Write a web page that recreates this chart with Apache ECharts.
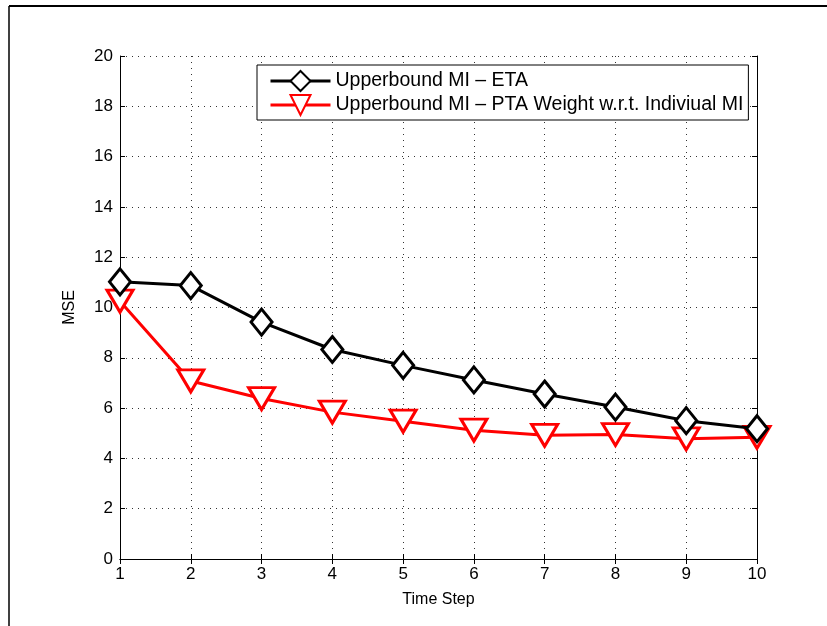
<!DOCTYPE html>
<html><head><meta charset="utf-8">
<script src="https://cdn.jsdelivr.net/npm/echarts@6/dist/echarts.min.js"></script>
<style>html,body{margin:0;padding:0;background:#fff}#c{width:827px;height:626px}</style>
</head><body><div id="c"></div>
<script>
const timeSteps = [1,2,3,4,5,6,7,8,9,10];
const etaValues = [11.02, 10.87, 9.42, 8.33, 7.70, 7.12, 6.56, 6.04, 5.50, 5.18];
const ptaValues = [10.25, 7.08, 6.38, 5.84, 5.48, 5.12, 4.92, 4.95, 4.78, 4.84];
const seriesNames = ['Upperbound MI \u2013 ETA', 'Upperbound MI \u2013 PTA Weight w.r.t. Indiviual MI'];
const xTicks = {min:1, max:10, interval:1};
const yTicks = {min:0, max:20, interval:2};

const font = 'Liberation Sans, Arial, Helvetica, sans-serif';
const chart = echarts.init(document.getElementById('c'), null, {renderer:'canvas'});
const axisCommon = {
  axisLine:{show:true, lineStyle:{color:'#000', width:1}},
  axisTick:{show:true, inside:true, length:5, lineStyle:{color:'#000'}},
};
chart.setOption({
  animation:false,
  backgroundColor:'#fff',
  textStyle:{fontFamily:font},
  graphic:[
    {type:'line', shape:{x1:9, y1:6, x2:827, y2:6}, style:{stroke:'#000', lineWidth:2}},
    {type:'line', shape:{x1:9, y1:6, x2:9, y2:626}, style:{stroke:'#000', lineWidth:1.5}}
  ],
  grid:{left:120, right:70, top:56, bottom:67, containLabel:false},
  legend:{
    orient:'vertical', left:257, top:65,
    backgroundColor:'#fff', borderColor:'#000', borderWidth:1,
    padding:[5, 5, 4, 12], itemGap:2,
    itemWidth:60, itemHeight:25,
    lineStyle:{width:3},
    textStyle:{fontSize:19.5, color:'#000', fontFamily:font},
    data:seriesNames
  },
  xAxis:[
    Object.assign({type:'value', min:xTicks.min, max:xTicks.max, interval:xTicks.interval,
      name:'Time Step', nameLocation:'middle', nameGap:33,
      nameTextStyle:{fontSize:16, color:'#000', fontFamily:font},
      axisLabel:{fontSize:17, color:'#000', margin:7, fontFamily:font},
      splitLine:{show:true, lineStyle:{type:[1,5], color:'#333', width:1}}}, axisCommon),
    Object.assign({type:'value', position:'top', min:xTicks.min, max:xTicks.max, interval:xTicks.interval,
      axisLabel:{show:false}, splitLine:{show:false}}, axisCommon)
  ],
  yAxis:[
    Object.assign({type:'value', min:yTicks.min, max:yTicks.max, interval:yTicks.interval,
      name:'MSE', nameLocation:'middle', nameGap:42,
      nameTextStyle:{fontSize:16, color:'#000', fontFamily:font},
      axisLabel:{fontSize:17, color:'#000', margin:7, fontFamily:font},
      splitLine:{show:true, lineStyle:{type:[1,5], color:'#333', width:1}}}, axisCommon),
    Object.assign({type:'value', position:'right', min:yTicks.min, max:yTicks.max, interval:yTicks.interval,
      axisLabel:{show:false}, splitLine:{show:false}}, axisCommon)
  ],
  series:[
    {name:seriesNames[0], type:'line', data:timeSteps.map((t,i)=>[t, etaValues[i]]),
      lineStyle:{color:'#000', width:3}, symbol:'diamond', symbolSize:[21,26],
      itemStyle:{color:'#fff', borderColor:'#000', borderWidth:3}, z:3},
    {name:seriesNames[1], type:'line', data:timeSteps.map((t,i)=>[t, ptaValues[i]]),
      lineStyle:{color:'#f00', width:3}, symbol:'triangle', symbolRotate:180, symbolSize:[26,22],
      itemStyle:{color:'#fff', borderColor:'#f00', borderWidth:3}, z:2}
  ]
});
</script></body></html>
